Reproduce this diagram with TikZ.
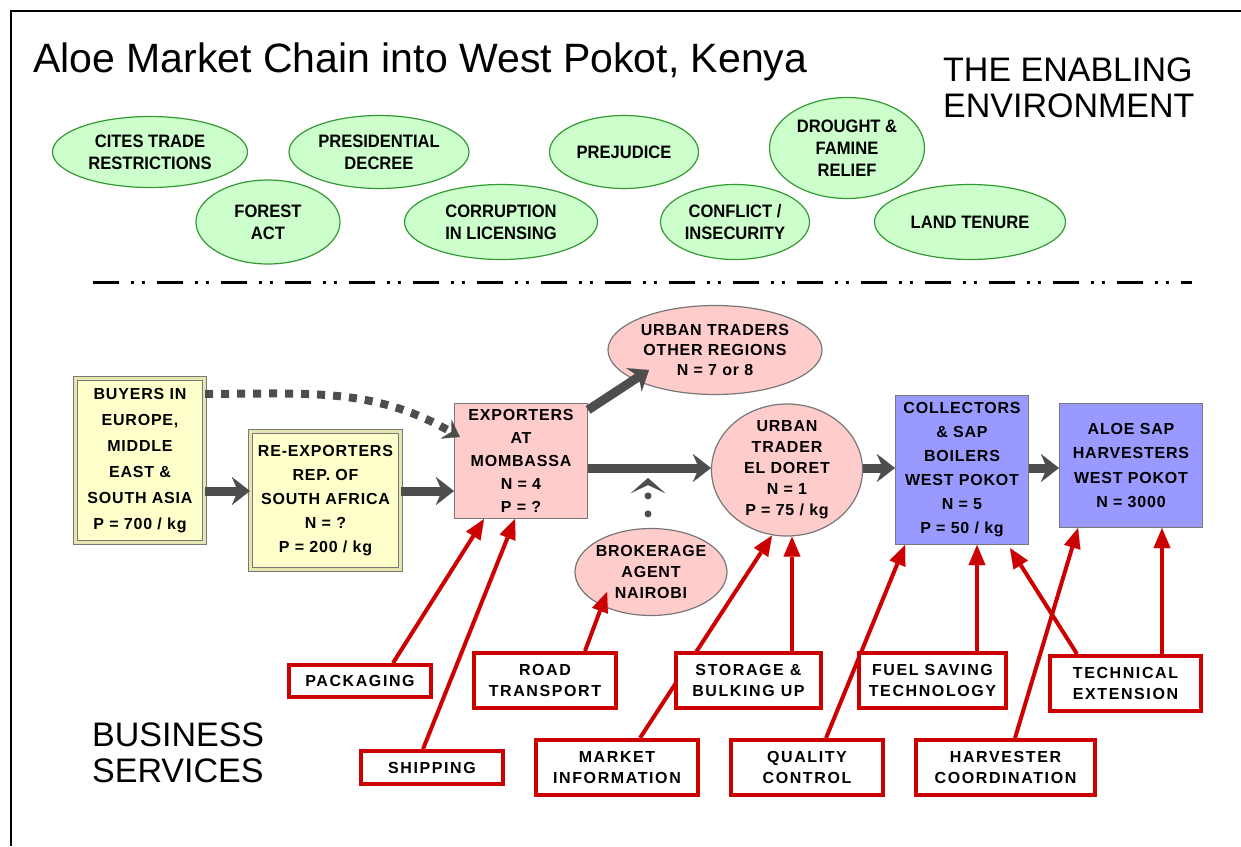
\documentclass[tikz,border=0pt]{standalone}
\usepackage{fontspec}
\setmainfont{Liberation Sans}
\newfontfamily\envfont{Liberation Sans}[FakeStretch=0.92]
\newfontfamily\chainfont{Liberation Sans}[LetterSpace=5]
\newfontfamily\servfont{Liberation Sans}[LetterSpace=10]
\usetikzlibrary{shapes.geometric,arrows.meta}

\definecolor{envgreen}{HTML}{CCFFCC}
\definecolor{envline}{HTML}{339933}
\definecolor{buyyellow}{HTML}{FFFFCC}
\definecolor{buyrim}{HTML}{E6E6B0}
\definecolor{tradepink}{HTML}{FFCCCC}
\definecolor{collectblue}{HTML}{9999FF}
\definecolor{rimgray}{HTML}{777777}
\definecolor{flowgray}{HTML}{4D4D4D}
\definecolor{servred}{HTML}{CC0000}

\pgfdeclarelayer{front}
\pgfsetlayers{main,front}

\tikzset{
  envbubble/.style={ellipse, draw=envline, fill=envgreen, line width=1.2pt,
    inner sep=-6pt, align=center, font=\envfont\bfseries\fontsize{18}{22}\selectfont},
  buyerbox/.style={rectangle, draw=rimgray, line width=1.2pt, double=buyrim,
    double distance=2.5pt, fill=buyyellow, inner sep=0pt, align=center,
    font=\chainfont\bfseries\fontsize{16}{#1}\selectfont},
  exportbox/.style={rectangle, draw=rimgray, line width=1.2pt, fill=tradepink,
    inner sep=0pt, align=center, font=\chainfont\bfseries\fontsize{16}{#1}\selectfont},
  traderbubble/.style={ellipse, draw=rimgray, line width=1.2pt, fill=tradepink,
    inner sep=-8pt, align=center, font=\chainfont\bfseries\fontsize{16}{#1}\selectfont},
  collectbox/.style={rectangle, draw=rimgray, line width=1.2pt, fill=collectblue,
    inner sep=0pt, align=center, font=\chainfont\bfseries\fontsize{16}{#1}\selectfont},
  servicebox/.style={rectangle, draw=servred, line width=4pt, fill=white,
    inner sep=0pt, align=center, font=\servfont\bfseries\fontsize{16}{21}\selectfont},
  flowarrow/.style={draw=flowgray, line width=9pt,
    -{Stealth[length=18pt,width=28pt,inset=6pt,line width=0.1pt]}},
  dashflow/.style={draw=flowgray, line width=8pt, dash pattern=on 8pt off 8pt,
    -{Stealth[length=16pt,width=22pt,inset=6pt,line width=0.1pt]}},
  dotflow/.style={draw=flowgray, line width=7pt, line cap=round,
    dash pattern=on 0pt off 18pt, dash phase=4pt,
    -{Stealth[length=15pt,width=34pt,inset=8pt,line width=0.1pt]}},
  servarrow/.style={draw=servred, line width=4pt,
    -{Triangle[length=20pt,width=17pt,line width=0.1pt]}}
}

\begin{document}
\begin{tikzpicture}[x=1pt, y=-1pt]
    \useasboundingbox (0,0) rectangle (1241,846);
    % frame on top and left
    \draw[line width=2.5pt] (11,846) -- (11,11) -- (1241,11);
    % headings
    \node[anchor=base west, inner sep=0pt, font=\fontsize{41}{48}\selectfont] (title) at (33,72)
        {Aloe Market Chain into West Pokot, Kenya};
    \node[anchor=north west, inner sep=0pt, align=left, font=\fontsize{34}{36}\selectfont] (enabling) at (943,58)
        {THE ENABLING\\ENVIRONMENT};
    \node[anchor=north west, inner sep=0pt, align=left, font=\fontsize{34}{36}\selectfont] (business) at (92,723)
        {BUSINESS\\SERVICES};

    % the enabling environment
    \node[envbubble, minimum width=195pt, minimum height=71pt] (cites) at (150,152) {CITES TRADE\\RESTRICTIONS};
    \node[envbubble, minimum width=144pt, minimum height=84pt] (forest) at (268,222) {FOREST\\ACT};
    \node[envbubble, minimum width=180pt, minimum height=73pt] (decree) at (379,152) {PRESIDENTIAL\\DECREE};
    \node[envbubble, minimum width=193pt, minimum height=75pt] (corruption) at (501,222) {CORRUPTION\\IN LICENSING};
    \node[envbubble, minimum width=149pt, minimum height=73pt] (prejudice) at (624,152) {PREJUDICE};
    \node[envbubble, minimum width=149pt, minimum height=75pt] (conflict) at (735,222) {CONFLICT /\\INSECURITY};
    \node[envbubble, minimum width=155pt, minimum height=101pt] (drought) at (847,148) {DROUGHT \&\\FAMINE\\RELIEF};
    \node[envbubble, minimum width=191pt, minimum height=75pt] (tenure) at (970,222) {LAND TENURE};

    % dividing line
    \draw[line width=3pt, dash pattern=on 26pt off 12pt on 3pt off 8pt on 3pt off 12pt] (93,282) -- (1192,282);

    % the market chain
    \node[buyerbox=26, minimum width=129pt, minimum height=164pt] (buyers) at (140,460.5)
        {BUYERS IN\\EUROPE,\\MIDDLE\\EAST \&\\SOUTH ASIA\\P = 700 / kg};
    \node[buyerbox=24, minimum width=150pt, minimum height=138pt] (reexp) at (325.5,500.5)
        {RE-EXPORTERS\\REP. OF\\SOUTH AFRICA\\N = ?\\P = 200 / kg};
    \node[exportbox=23, minimum width=133pt, minimum height=115pt] (exporters) at (521,461)
        {EXPORTERS\\AT\\MOMBASSA\\N = 4\\P = ?};
    \node[traderbubble=20, minimum width=214pt, minimum height=89pt] (urbanother) at (715,350)
        {URBAN TRADERS\\OTHER REGIONS\\N = 7 or 8};
    \node[traderbubble=21, minimum width=151pt, minimum height=132pt] (urban) at (787,470)
        {URBAN\\TRADER\\EL DORET\\N = 1\\P = 75 / kg};
    \node[traderbubble=21, minimum width=152pt, minimum height=87pt] (broker) at (651,572)
        {BROKERAGE\\AGENT\\NAIROBI};
    \node[collectbox=24, minimum width=133pt, minimum height=149pt] (collectors) at (962,470)
        {COLLECTORS\\\& SAP\\BOILERS\\WEST POKOT\\N = 5\\P = 50 / kg};
    \node[collectbox=24.5, minimum width=143pt, minimum height=124pt] (harvesters) at (1131,465.5)
        {ALOE SAP\\HARVESTERS\\WEST POKOT\\N = 3000};

    % flows along the chain
    \draw[flowarrow] ([yshift=-30.5pt]buyers.east) -- ([yshift=9.5pt]reexp.west);
    \draw[flowarrow] ([yshift=9.5pt]reexp.east) -- ([yshift=-30pt]exporters.west);
    \draw[flowarrow] ([yshift=-7pt]exporters.east) -- ([yshift=2pt]urban.west);
    \draw[flowarrow] ([yshift=-7pt]exporters.north east) -- ([xshift=-66pt,yshift=-20pt]urbanother.center);
    \draw[flowarrow] ([yshift=2pt]urban.east) -- ([yshift=2pt]collectors.west);
    \draw[flowarrow] ([yshift=2pt]collectors.east) -- ([yshift=-2.5pt]harvesters.west);
    \draw[dashflow] ([yshift=-16pt]buyers.north east) to[out=0, in=150] ([xshift=6pt,yshift=24pt]exporters.west);
    \coordinate (brokertip) at (648,478);
    \draw[dotflow] ([xshift=-3pt]broker.north) -- (brokertip);

    % business services
    \begin{pgfonlayer}{front}
    \node[servicebox, minimum width=142pt, minimum height=32pt] (packaging) at (360,681) {PACKAGING};
    \node[servicebox, minimum width=142pt, minimum height=33pt] (shipping) at (432,767.5) {SHIPPING};
    \node[servicebox, minimum width=142pt, minimum height=55pt] (road) at (545,680.5) {ROAD\\TRANSPORT};
    \node[servicebox, minimum width=145pt, minimum height=55pt] (storage) at (748.5,680.5) {STORAGE \&\\BULKING UP};
    \node[servicebox, minimum width=162pt, minimum height=55pt] (market) at (617,767.5) {MARKET\\INFORMATION};
    \node[servicebox, minimum width=147pt, minimum height=55pt] (fuel) at (932.5,680.5) {FUEL SAVING\\TECHNOLOGY};
    \node[servicebox, minimum width=152pt, minimum height=55pt] (quality) at (807,767.5) {QUALITY\\CONTROL};
    \node[servicebox, minimum width=151pt, minimum height=55pt] (technical) at (1125.5,683.5) {TECHNICAL\\EXTENSION};
    \node[servicebox, minimum width=179pt, minimum height=55pt] (harvcoord) at (1005.5,767.5) {HARVESTER\\COORDINATION};
    \end{pgfonlayer}

    \draw[servarrow] ([xshift=33pt]packaging.north) -- ([xshift=-37pt]exporters.south);
    \draw[servarrow] ([xshift=-9pt]shipping.north) -- ([xshift=-6pt]exporters.south);
    \draw[servarrow] ([xshift=40pt]road.north) -- ([xshift=-44pt,yshift=-20pt]broker.center);
    \draw[servarrow] ([xshift=43.5pt]storage.north) -- ([xshift=5pt]urban.south);
    \draw[servarrow] ([xshift=23pt]market.north) -- ([xshift=-15pt,yshift=1pt]urban.south);
    \draw[servarrow] ([xshift=44.5pt]fuel.north) -- ([xshift=15pt]collectors.south);
    \draw[servarrow] ([xshift=19pt]quality.north) -- ([xshift=-57pt]collectors.south);
    \draw[servarrow] ([xshift=-48.5pt]technical.north) -- ([xshift=48pt,yshift=-3pt]collectors.south);
    \draw[servarrow] ([xshift=36.5pt]technical.north) -- ([xshift=31pt]harvesters.south);
    \draw[servarrow] ([xshift=9.5pt]harvcoord.north) -- ([xshift=-53pt]harvesters.south);
\end{tikzpicture}
\end{document}
